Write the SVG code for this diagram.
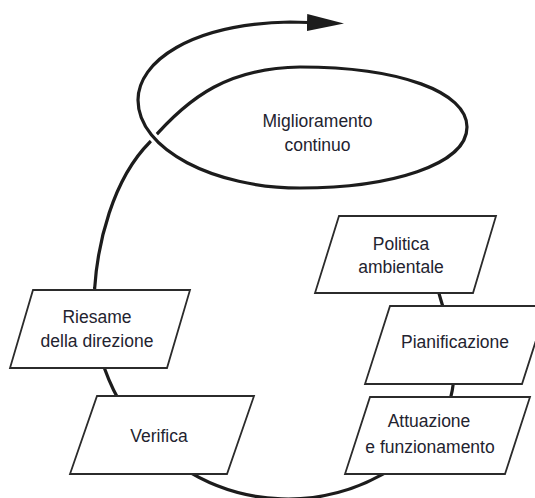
<svg xmlns="http://www.w3.org/2000/svg" width="535" height="498" viewBox="0 0 535 498">
  <style>
    .line { fill: none; stroke: #1c1c1c; stroke-width: 3.2; stroke-linecap: butt; stroke-linejoin: round; }
    .halo { fill: none; stroke: #ffffff; stroke-width: 9; }
    .box { fill: #ffffff; stroke: #2b2b2b; stroke-width: 1.8; stroke-linejoin: miter; }
    .lbl { font-family: "Liberation Sans", Arial, sans-serif; font-size: 17.5px; fill: #23232f; text-anchor: middle; }
  </style>
  <defs>
    <marker id="arrow" markerUnits="userSpaceOnUse" viewBox="0 0 37 17" markerWidth="37" markerHeight="17" refX="1" refY="8.5" orient="auto">
      <path d="M0,0 L37,8.5 L0,17 Z" fill="#1c1c1c"/>
    </marker>
  </defs>
  <rect x="0" y="0" width="535" height="498" fill="#ffffff"/>

  <g id="connectors">
    <path class="line" d="M 432,262 C 434,290 456,330 454,375 C 452,420 425,452 382,474.7 A 194 194 0 0 1 94.7,288 C 97.5,245 112,180 150,142 C 190,95 230,68 300,67 C 400,67 467,92 467,127 C 467,165 390,188 300,188"/>
    <path class="halo" d="M 300,188 C 215,188 138,150 138,100 C 138,62 190,24 290,22"/>
    <path class="line" d="M 300,188 C 215,188 138,150 138,100 C 138,62 190,24 290,22 L 308,22.5" marker-end="url(#arrow)"/>
  </g>

  <g id="miglioramento">
    <text class="lbl" x="317.5" y="127">Miglioramento</text>
    <text class="lbl" x="317.5" y="151">continuo</text>
  </g>

  <g id="politica">
    <polygon class="box" points="339,216 496,216 473,293 315,293"/>
    <text class="lbl" x="401" y="250">Politica</text>
    <text class="lbl" x="401" y="273">ambientale</text>
  </g>

  <g id="pianificazione">
    <polygon class="box" points="390,306 547,306 522,384 365,384"/>
    <text class="lbl" x="455" y="348">Pianificazione</text>
  </g>

  <g id="attuazione">
    <polygon class="box" points="370,397 530,397 505,474 345,474"/>
    <text class="lbl" x="429" y="427">Attuazione</text>
    <text class="lbl" x="430" y="453">e funzionamento</text>
  </g>

  <g id="verifica">
    <polygon class="box" points="97,396 254,396 227,474 70,474"/>
    <text class="lbl" x="159" y="442">Verifica</text>
  </g>

  <g id="riesame">
    <polygon class="box" points="33,290 190,290 167,368 10,368"/>
    <text class="lbl" x="97" y="323">Riesame</text>
    <text class="lbl" x="97" y="347">della direzione</text>
  </g>
</svg>
